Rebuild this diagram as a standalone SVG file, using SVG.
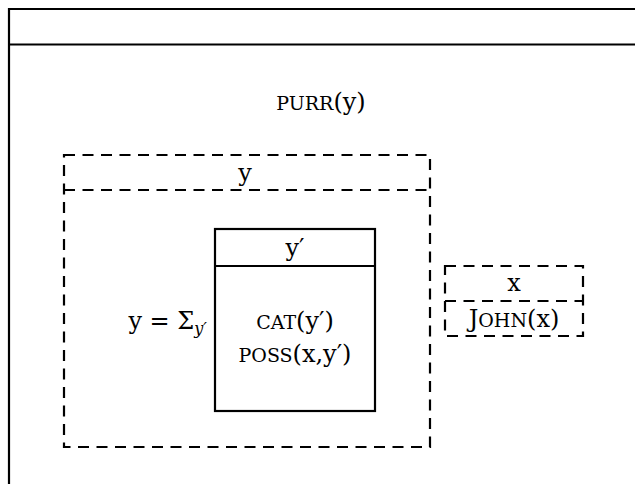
<svg xmlns="http://www.w3.org/2000/svg" width="635" height="484" viewBox="0 0 635 484">
<style>
.solid{fill:none;stroke:#000;stroke-width:2.2}
.dash{fill:none;stroke:#000;stroke-width:2.2;stroke-dasharray:11 7.5}
text{font-family:"DejaVu Serif","Liberation Serif",serif;font-size:24px;fill:#000;text-anchor:middle}
.sc{font-size:19px}
</style>
<rect width="635" height="484" fill="#fff"/>
<g id="outer">
<path class="solid" d="M9,490 V9 H640"/>
<line class="solid" x1="9" y1="44.5" x2="640" y2="44.5"/>
<text x="321" y="110"><tspan class="sc">PURR</tspan>(y)</text>
</g>
<g id="box-y">
<rect class="dash" x="64" y="155" width="366" height="292"/>
<line class="dash" x1="64" y1="190" x2="430" y2="190"/>
<text x="245" y="181">y</text>
<text x="207" y="329" style="text-anchor:end">y = Σ<tspan font-style="italic" font-size="16" dy="5">y′</tspan></text>
</g>
<g id="box-yprime">
<rect class="solid" x="215" y="229" width="160" height="182"/>
<line class="solid" x1="215" y1="266" x2="375" y2="266"/>
<text x="295" y="256">y′</text>
<text x="295" y="329"><tspan class="sc">CAT</tspan>(y′)</text>
<text x="295" y="362"><tspan class="sc">POSS</tspan>(x,y′)</text>
</g>
<g id="box-x">
<rect class="dash" x="445" y="266" width="138" height="70"/>
<line class="dash" x1="445" y1="301" x2="583" y2="301"/>
<text x="514" y="291">x</text>
<text x="514" y="327">J<tspan class="sc">OHN</tspan>(x)</text>
</g>
<g id="connectors"></g>
</svg>
